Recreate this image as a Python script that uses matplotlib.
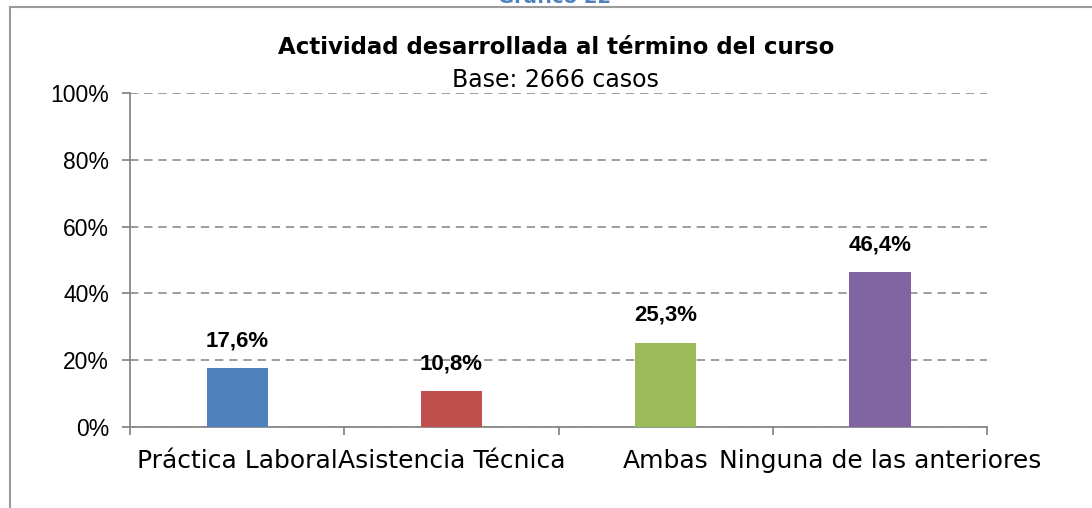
import matplotlib.pyplot as plt
import matplotlib.lines as mlines
from matplotlib.ticker import FixedLocator, PercentFormatter

categories = ["Práctica Laboral", "Asistencia Técnica", "Ambas", "Ninguna de las anteriores"]
values = [17.6, 10.8, 25.3, 46.4]
value_labels = ["17,6%", "10,8%", "25,3%", "46,4%"]
colors = ["#4F81BD", "#C0504D", "#9BBB59", "#8064A2"]
yticks = [0, 20, 40, 60, 80, 100]

fig = plt.figure(figsize=(10.92, 5.08), dpi=100)
ax = fig.add_axes([0.119, 0.1594, 0.785, 0.6575])

x = list(range(len(categories)))
ax.bar(x, values, width=0.285, color=colors, zorder=3)

for xi, v, lab in zip(x, values, value_labels):
    ax.annotate(lab, (xi, v), xytext=(0, 12), textcoords="offset points",
                ha="center", va="bottom", fontsize=16, fontweight="bold",
                family="Liberation Sans")

ax.set_xlim(-0.5, 3.5)
ax.set_ylim(0, 100)
ax.yaxis.set_major_locator(FixedLocator(yticks))
ax.yaxis.set_major_formatter(PercentFormatter(decimals=0))
ax.grid(axis="y", color="#8c8c8c", linestyle=(0, (5, 3.5)), linewidth=1.2, zorder=0)

# category ticks sit at boundaries, labels at centers
ax.set_xticks([-0.5, 0.5, 1.5, 2.5, 3.5])
ax.set_xticklabels([])
ax.set_xticks(x, minor=True)
ax.set_xticklabels(categories, minor=True, fontsize=18, family="DejaVu Sans")
ax.tick_params(axis="x", which="minor", length=0, pad=16)
ax.tick_params(axis="x", which="major", length=6, color="#888888", width=1.3)
ax.tick_params(axis="y", length=6, color="#888888", width=1.3, labelsize=16.5, pad=9)
for t in ax.get_yticklabels():
    t.set_family("Liberation Sans")

for s in ["top", "right"]:
    ax.spines[s].set_visible(False)
for s in ["left", "bottom"]:
    ax.spines[s].set_color("#888888")
    ax.spines[s].set_linewidth(1.3)

fig.text(0.509, 0.906, "Actividad desarrollada al término del curso",
         ha="center", va="center", fontsize=16.5, fontweight="bold", family="DejaVu Sans")
fig.text(0.509, 0.843, "Base: 2666 casos", ha="center", va="center",
         fontsize=17, family="DejaVu Sans")
fig.text(0.508, 0.994, "Gráfico 22", ha="center", va="baseline", fontsize=14,
         fontweight="bold", color="#4F81BD", family="DejaVu Sans")

# outer frame of the chart area
fig.add_artist(mlines.Line2D([0.0095, 0.0095], [0.0, 0.986], color="#9a9a9a", linewidth=1.5))
fig.add_artist(mlines.Line2D([0.0095, 1.0], [0.986, 0.986], color="#9a9a9a", linewidth=1.5))

fig.savefig("out.png", dpi=100)
